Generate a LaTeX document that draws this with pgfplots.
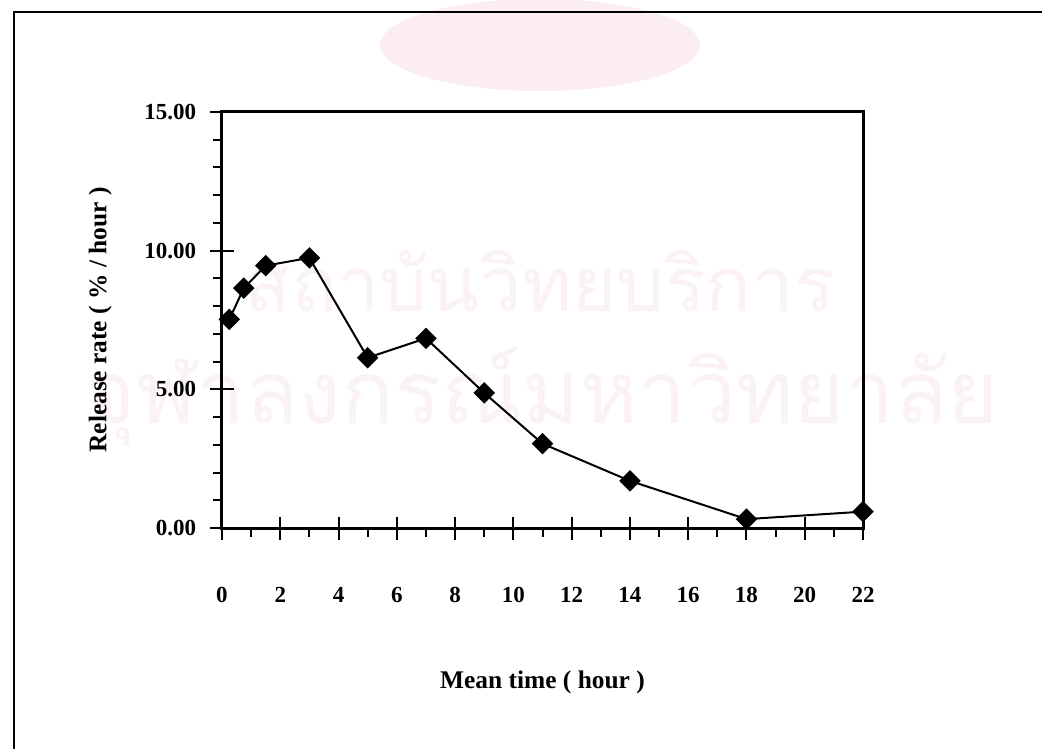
\documentclass[border=0pt]{standalone}
\usepackage{pgfplots}
\pgfplotsset{compat=1.18}
\usepackage{fontspec}
\setmainfont{Liberation Serif}
\newfontfamily\thaifont[Script=Thai]{Loma}
\definecolor{wm}{RGB}{250,242,246}
\definecolor{wmel}{RGB}{251,237,243}
\begin{document}
\begin{tikzpicture}
\useasboundingbox (-111pt,-110.5pt) rectangle (410pt,264pt);
% faint watermark
\fill[wmel] (159pt,241.5pt) ellipse (80pt and 23pt);
\node[wm, anchor=base, inner sep=0pt, font=\thaifont] at (159pt,108pt) {\resizebox{295pt}{!}{สถาบันวิทยบริการ}};
\node[wm, anchor=base, inner sep=0pt, font=\thaifont] at (160pt,52.5pt) {\resizebox{457pt}{!}{จุฬาลงกรณ์มหาวิทยาลัย}};
% outer frame
\draw[line width=1pt] (410pt,258pt) -- (-104pt,258pt) -- (-104pt,-110.5pt);
\begin{axis}[
  at={(0,0)}, anchor=south west,
  scale only axis, width=320.5pt, height=208pt,
  xmin=0, xmax=22, ymin=0, ymax=15,
  xtick={0,2,...,22}, ytick={0,5,10,15},
  minor x tick num=1, minor y tick num=4,
  axis line style={line width=1.5pt},
  tick style={line width=1pt, black},
  tick align=center,
  major tick length=11.5pt, minor tick length=4.5pt,
  every minor x tick/.append style={yshift=-2.25pt},
  every minor y tick/.append style={xshift=-2.25pt},
  xtick pos=bottom, ytick pos=left,
  font=\fontsize{11.5}{13}\selectfont\bfseries,
  /pgf/number format/assume math mode=true,
  yticklabel={\pgfmathprintnumber[fixed,fixed zerofill,precision=2]{\tick}},
  yticklabel style={anchor=east, inner sep=0pt, xshift=-7pt, font=\fontsize{11.5}{13}\selectfont\bfseries},
  xticklabel style={anchor=center, inner sep=0pt, yshift=-27.5pt, font=\fontsize{11.5}{13}\selectfont\bfseries},
  xlabel={Mean time ( hour )},
  ylabel={Release rate ( \% / hour )},
  xlabel style={at={(axis description cs:0.5,-0.37)}, anchor=center, font=\fontsize{12.7}{14}\selectfont\bfseries},
  ylabel style={at={(axis description cs:-0.19,0.5)}, anchor=center, rotate=0, font=\fontsize{12.7}{14}\selectfont\bfseries},
  clip=false,
]
\addplot[black, line width=1pt, mark=square*, mark size=3.3pt, mark options={rotate=45, solid, fill=black}] coordinates {
(0.25,7.52) (0.75,8.65) (1.5,9.46) (3,9.74) (5,6.14) (7,6.84) (9,4.87) (11,3.04) (14,1.70) (18,0.32) (22,0.59)
};
\end{axis}
\end{tikzpicture}
\end{document}
